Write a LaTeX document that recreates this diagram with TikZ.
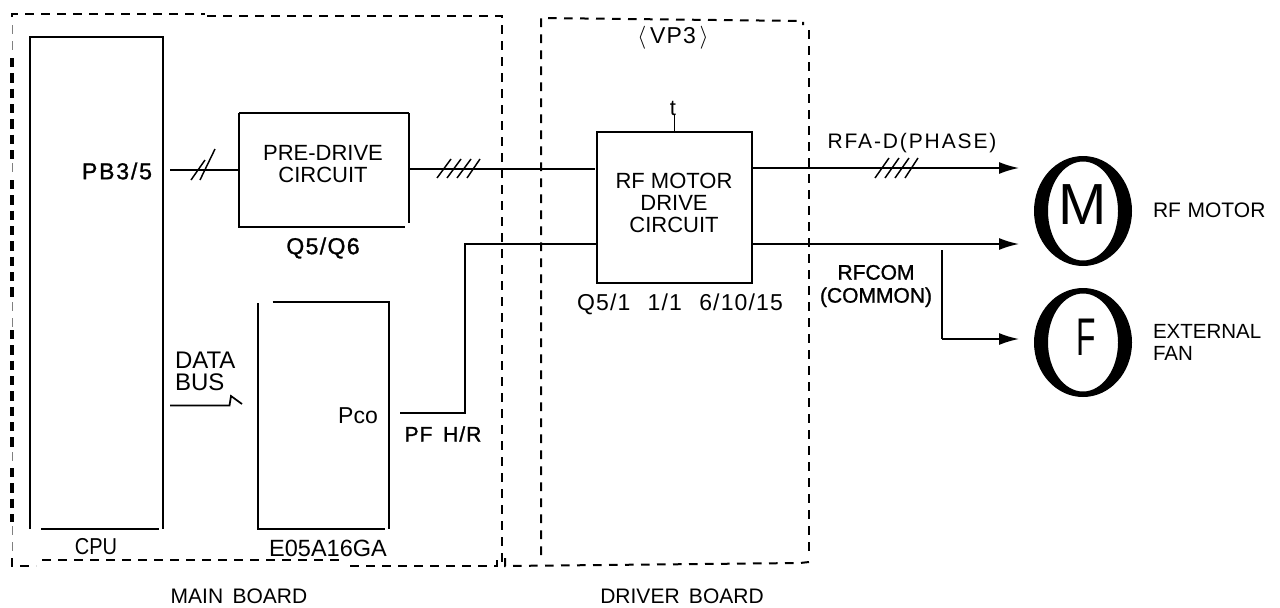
\documentclass[tikz,border=0pt]{standalone}
\usepackage{fontspec}
\setmainfont{Liberation Sans}
\usetikzlibrary{arrows.meta,shapes.geometric}
\newcommand{\fz}[2]{\fontsize{\the\dimexpr#1pt*3/4\relax}{\the\dimexpr#2pt*3/4\relax}\selectfont}
\tikzset{
  lbl/.style={inner sep=0pt,outer sep=0pt,align=center,text=black},
  body/.style={lbl,font=\fz{22}{22}},
  small/.style={lbl,font=\fz{21}{22}},
  boxline/.style={line width=1.6pt,line cap=butt},
  wire/.style={line width=1.3pt},
  slash/.style={line width=1.1pt},
  arrowed/.style={wire,-{Latex[length=15pt,width=9pt]}},
  border/.style={line width=1.5pt,dash pattern=on 6.5pt off 5.5pt},
  heavy/.style={line width=2.3pt,dash pattern=on 7pt off 4.5pt},
  faint/.style={line width=0.5pt,gray,dash pattern=on 7pt off 5pt},
  boxnode/.style={inner sep=0pt,outer sep=0pt,rectangle},
  ringnode/.style={ellipse,inner sep=0pt,outer sep=0pt,minimum width=73.5pt,minimum height=82pt}
}
\begin{document}
\begin{tikzpicture}[x=0.75pt,y=-0.75pt]
\useasboundingbox (0,0) rectangle (1280,607);
% boards
\draw[border] (12,17) -- (12,14) -- (205,14);
\draw[border] (207,16) -- (502,16) -- (502,563);
\draw[faint] (12,25) -- (12,56);
\draw[heavy] (12,58) -- (12,160);
\draw[faint] (12,163) -- (12,176);
\draw[heavy] (12,180) -- (12,298);
\draw[faint] (12,302) -- (12,328);
\draw[heavy] (12,330) -- (12,450);
\draw[faint] (12,452) -- (12,466);
\draw[heavy] (12,468) -- (12,522);
\draw[faint] (12,526) -- (12,552);
\draw[border] (12,558) -- (12,566) -- (36,566);
\draw[border] (42,560) -- (345,560);
\draw[border] (350,566) -- (497,566) -- (497,560);
\draw[border] (505,558) -- (505,566) -- (800,563) -- (809,562);
\draw[border] (541,555) -- (541,18) -- (803,21) -- (803,25);
\draw[border,line width=1.8pt] (809,30) -- (809,555);
% boxes
\node[boxnode,minimum width=99.75pt,minimum height=369pt] (cpu) at (96.5,283) {};
\node[lbl,font=\fz{23}{23}\addfontfeature{LetterSpace=8,FakeBold=1.2},anchor=east] (pb) at (152,171) {PB3/5};
\draw[boxline] (cpu.south west) -- (cpu.north west) -- (cpu.north east) -- (cpu.south east);
\draw[boxline] ([xshift=8.5pt]cpu.south west) -- ([xshift=-3pt]cpu.south east);
\node[boxnode,minimum width=127.5pt,minimum height=85.5pt] (pre) at (324,170) {};
\node[body] (pretext) at (323,164) {PRE-DRIVE\\[0pt]CIRCUIT};
\draw[boxline] (pre.north west) -- (pre.north east) (pre.north east) -- ([yshift=3pt]pre.south east);
\draw[boxline] (pre.north west) -- (pre.south west) -- ([xshift=-3pt]pre.south east);
\node[boxnode,minimum width=98.25pt,minimum height=170.25pt] (gate) at (323.5,415.5) {};
\draw[boxline] ([yshift=-1pt]gate.north west) -- (gate.south west) -- ([xshift=-3pt]gate.south east);
\draw[boxline] ([xshift=11pt]gate.north west) -- (gate.north east) -- (gate.south east);
\node[boxnode,draw,line width=1.7pt,minimum width=116.25pt,minimum height=113.25pt] (drv) at (674.5,207.5) {};
\node[body] (drvtext) at (674,203) {RF MOTOR\\DRIVE\\CIRCUIT};
% texts
\node[lbl,font=\fz{23}{23}\addfontfeature{LetterSpace=6,FakeBold=1.2}] (q5q6) at (323,248) {Q5/Q6};
\node[lbl,font=\fz{23}{23}] (cputxt) at (96,547) {\scalebox{0.87}[1]{CPU}};
\node[lbl,font=\fz{23.5}{23.5}] (gatetxt) at (328,548) {E05A16GA};
\node[lbl,font=\fz{24}{22},align=left,anchor=west] (bus) at (175,371) {DATA\\BUS};
\node[lbl,font=\fz{23}{23}] (pco) at (358,416) {Pco};
\node[lbl,font=\fz{21}{22}\addfontfeature{LetterSpace=5,FakeBold=1.2}] (pf) at (443,434) {PF\hspace{8pt}H/R};
\node[small] (mb) at (239,596) {MAIN\hspace{7pt}BOARD};
\node[small] (db) at (682,596) {DRIVER\hspace{7pt}BOARD};
\node[lbl,font=\fz{23}{23}\addfontfeature{LetterSpace=5}] (vp) at (673,38) {$\langle$\,VP3\,$\rangle$};
\node[lbl,font=\fz{23}{23}\addfontfeature{LetterSpace=5}] (qq) at (680,304) {Q5/1\hspace{13pt}1/1\hspace{13pt}6/10/15};
\node[lbl,font=\fz{21}{21}\addfontfeature{LetterSpace=9}] (rfa) at (912,143) {RFA-D(PHASE)};
\node[lbl,font=\fz{21}{23}\addfontfeature{FakeBold=1.2}] (rfcom) at (876,286) {RFCOM\\(COMMON)};
\node[small,anchor=west] (rfm) at (1153,210) {RF\hspace{5pt}MOTOR};
\node[lbl,font=\fz{20.5}{22},align=left,anchor=west] (ext) at (1153,342) {EXTERNAL\\FAN};
\node[lbl,font=\fz{22}{22}] (t) at (673,108) {t};
% motors
\fill[even odd rule] (1083,211) circle [x radius=49,y radius=55] (1083,211) circle [x radius=35,y radius=49.5];
\node[ringnode] (motor) at (1083,211) {};
\node[lbl,font=\fz{58}{58}] (mm) at (1083,205) {M};
\fill[even odd rule] (1083,342.5) circle [x radius=49,y radius=54.5] (1083,342.5) circle [x radius=35,y radius=49];
\node[ringnode] (fan) at (1083,342.5) {};
\node[lbl,font=\fz{53}{53}] (ff) at (1086,337) {\scalebox{0.6}[1]{F}};
% connectors
\coordinate (pbOut) at (170,170);
\coordinate (pcoOut) at (400,413);
\coordinate (turn1) at (465,413);
\coordinate (turn2) at (465,244);
\coordinate (m1) at (1019,168);
\coordinate (m2) at (1019,244);
\coordinate (f1) at (1019,339);
\coordinate (tapTop) at (942,250);
\coordinate (tapLow) at (942,339);
\coordinate (busA) at (170,405.5);
\coordinate (busB) at (229.5,405.5);
\coordinate (busC) at (231,396);
\coordinate (busD) at (242,404);
\draw[wire] (pbOut) -- (pbOut-|pre.west);
\draw[wire] (pre.east|-pbOut) ++(0,-1) -- (595,169);
\draw[wire] (pcoOut) -- (turn1) -- (turn2) -- (turn2-|drv.west);
\draw[arrowed] (drv.east|-m1) -- (m1);
\draw[arrowed] (drv.east|-m2) -- (m2);
\draw[wire] (tapTop) -- (tapLow);
\draw[arrowed] (tapLow) -- (f1);
\draw[wire] (busA) -- (busB) -- (busC) -- (busD);
\draw[wire] (drv.north) ++(0,-17) -- (drv.north);
% slashes
\draw[slash] (191,180) -- (205,160) (200,180) -- (215,149);
\draw[slash] (437,178) -- (451,159) (447,178) -- (461,159) (457,178) -- (471,159) (467,178) -- (480,159);
\draw[slash] (875,178) -- (889,158) (885,178) -- (899,158) (895,178) -- (909,158) (905,178) -- (918,158);
\end{tikzpicture}
\end{document}
